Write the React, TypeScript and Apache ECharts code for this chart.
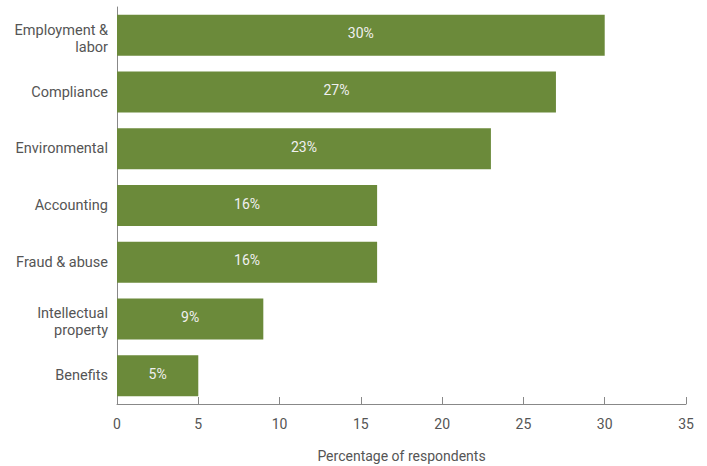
import React, { useEffect, useRef } from "react";
import * as echarts from "echarts";

const categories = [
  "Employment &\nlabor",
  "Compliance",
  "Environmental",
  "Accounting",
  "Fraud & abuse",
  "Intellectual\nproperty",
  "Benefits",
];
const values = [30, 27, 23, 16, 16, 9, 5];
const xTicks = { min: 0, max: 35, interval: 5 };
const xAxisTitle = "Percentage of respondents";

export default function App() {
  const ref = useRef<HTMLDivElement>(null);
  useEffect(() => {
    if (!ref.current) return;
    const chart = echarts.init(ref.current, null, { renderer: "svg" });
    const font = "Roboto, 'DejaVu Sans', sans-serif";
    const labelStyle = {
      color: "#555",
      fontSize: 14.5,
      fontFamily: font,
      lineHeight: 17,
      align: "right",
    };
    chart.setOption({
      animation: false,
      grid: {
        left: 117,
        right: 21,
        top: 7,
        bottom: 62,
        containLabel: false,
        outerBoundsMode: "none",
      },
      xAxis: {
        type: "value",
        min: xTicks.min,
        max: xTicks.max,
        interval: xTicks.interval,
        name: xAxisTitle,
        nameLocation: "middle",
        nameGap: 45,
        nameTextStyle: { color: "#555", fontSize: 14, fontFamily: font },
        axisLine: { show: true, lineStyle: { color: "#888", width: 1 } },
        axisTick: { show: true, inside: true, length: 7, lineStyle: { color: "#888" } },
        axisLabel: { color: "#555", fontSize: 14, fontFamily: font, margin: 13 },
        splitLine: { show: false },
      },
      yAxis: {
        type: "category",
        data: categories,
        inverse: true,
        axisLine: { show: true, lineStyle: { color: "#888", width: 1 } },
        axisTick: { show: false },
        axisLabel: {
          color: "#555",
          fontSize: 14.5,
          fontFamily: font,
          margin: 9,
          align: "right",
          lineHeight: 17,
          formatter: (v: string) => {
            const parts = v.split("\n");
            if (parts.length < 2) return `{a|${v}}`;
            return `{t| }\n` + parts.map((p) => `{a|${p}}`).join("\n");
          },
          rich: {
            a: labelStyle,
            t: { fontSize: 1, lineHeight: 7, align: "right" },
          },
        },
      },
      series: [
        {
          type: "bar",
          data: values,
          barWidth: 41,
          itemStyle: { color: "#6b8a3a" },
          label: {
            show: true,
            position: "inside",
            offset: [0, -2],
            formatter: "{c}%",
            color: "#f0f0f0",
            fontSize: 14,
            fontFamily: font,
          },
        },
      ],
    });
    return () => chart.dispose();
  }, []);
  return (
    <div
      ref={ref}
      style={{ position: "absolute", left: 0, top: 0, width: 707, height: 466 }}
    />
  );
}
